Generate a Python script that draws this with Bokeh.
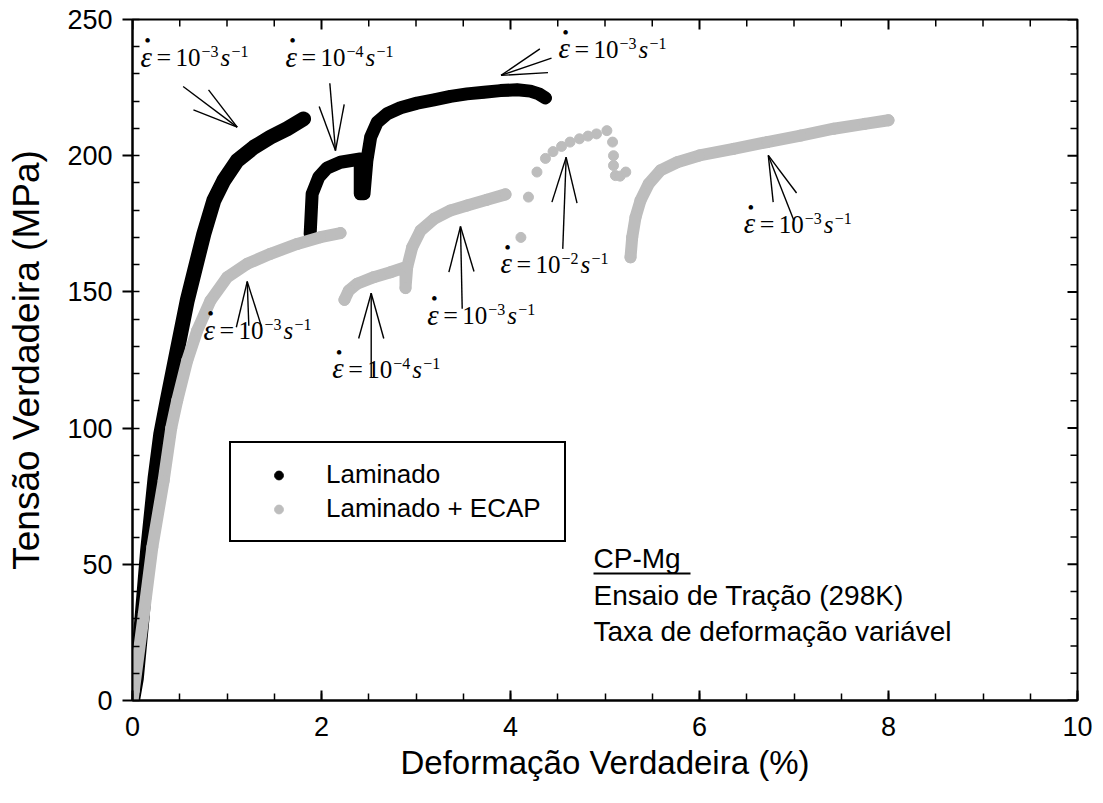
import math
from bokeh.plotting import figure
from bokeh.models import Range1d, SingleIntervalTicker, Legend, LegendItem
from bokeh.embed import file_html
from bokeh.resources import INLINE
from bokeh.core.properties import value

# ---------------- data ----------------
# Laminado (black), one array pair per strain-rate step
lam1_x = [0.00, 0.04, 0.10, 0.16, 0.24, 0.30, 0.367, 0.473, 0.579, 0.667, 0.755, 0.861, 0.966, 1.108, 1.284, 1.46, 1.637, 1.81]
lam1_y = [0.0, 8, 30, 55, 82, 98, 110.1, 128.5, 146.8, 159.1, 171.3, 183.6, 190.9, 198.2, 203.1, 206.8, 209.9, 213.5]
lam2_x = [1.88, 1.901, 1.971, 2.06, 2.20, 2.41, 2.41, 2.41, 2.45, 2.48, 2.52, 2.59, 2.695, 2.836, 3.012, 3.19,
          3.365, 3.54, 3.72, 3.894, 4.07, 4.21, 4.30, 4.37]
lam2_y = [171.3, 186, 192.1, 195.5, 197.6, 198.8, 194.6, 186, 186, 198.2, 206.8, 212.3, 215.4, 217.6, 219.3, 220.5,
          221.8, 222.7, 223.3, 223.9, 224.2, 223.7, 222.7, 221.2]

# Laminado + ECAP (grey)
ecap1_x = [0.00, 0.014, 0.12, 0.21, 0.33, 0.41, 0.473, 0.579, 0.684, 0.825, 1.002, 1.214, 1.46, 1.743, 1.989, 2.201]
ecap1_y = [0.0, 3.7, 31.8, 56.3, 80.8, 100, 110.1, 124.8, 135.8, 146.8, 155.4, 160.3, 164, 167.6, 170.1, 171.6]
ecap2_x = [2.243, 2.289, 2.377, 2.553, 2.73, 2.889, 2.889, 2.907, 2.96, 3.048, 3.19, 3.365, 3.54, 3.75, 3.947]
ecap2_y = [147.1, 150.5, 153, 155.4, 157.2, 159.1, 151.4, 159.1, 166.4, 172.5, 176.8, 179.9, 181.7, 183.8, 185.8]
ecap3_x = [5.27, 5.288, 5.323, 5.376, 5.463, 5.587, 5.764, 6.0, 6.36, 6.716, 7.07, 7.42, 7.75, 8.0]
ecap3_y = [162.7, 170.1, 177.4, 183.6, 189.7, 194.6, 197.6, 200.1, 202.5, 205, 207.4, 209.9, 211.7, 213]
# sparse points of the 10^-2 s^-1 step
ecap_sparse_x = [4.11, 4.19, 4.28, 4.37, 4.45, 4.54, 4.63, 4.73, 4.82, 4.91, 5.02, 5.08, 5.09, 5.09, 5.11, 5.16, 5.22]
ecap_sparse_y = [170, 184.8, 194, 199, 201.5, 203.4, 205, 206.2, 207.2, 208, 209.2, 205, 200, 196.4, 192.7, 192.5, 194]

# strain-rate annotations: label anchor (left of epsilon, middle of digits), exponent, arrow tip / tail
ann_x = [0.085, 1.619, 4.508, 0.751, 2.113, 3.119, 3.894, 6.469]
ann_y = [236.0, 236.0, 239.1, 135.8, 121.6, 141.2, 160.1, 174.8]
ann_exp = ["\u22123", "\u22124", "\u22123", "\u22123", "\u22124", "\u22123", "\u22122", "\u22123"]
arr_tip_x = [1.108, 2.148, 3.900, 1.214, 2.526, 3.471, 4.589, 6.728]
arr_tip_y = [210.5, 201.9, 229.5, 153.8, 149.5, 174.0, 199.4, 200.1]
arr_tail_x = [0.536, 2.088, 4.434, 1.231, 2.526, 3.489, 4.553, 6.999]
arr_tail_y = [225.4, 226.6, 235.8, 137.6, 118.7, 143.8, 165.8, 176.2]

info_lines = ["CP-Mg", "Ensaio de Tração (298K)", "Taxa de deformação variável"]

# ---------------- figure ----------------
FW, FH = 945, 681
XMAX, YMAX = 10, 250
sx = FW / XMAX
sy = FH / YMAX
p = figure(frame_width=FW, frame_height=FH, x_range=Range1d(0, XMAX), y_range=Range1d(0, YMAX),
           output_backend="svg", toolbar_location=None,
           min_border_left=132, min_border_right=21, min_border_top=19, min_border_bottom=90,
           background_fill_color="white", border_fill_color="white")
p.xgrid.visible = False
p.ygrid.visible = False
p.outline_line_color = "black"
p.outline_line_width = 2

SANS = "Liberation Sans"
SERIF = "Liberation Serif"

xa = p.xaxis[0]
xa.ticker = SingleIntervalTicker(interval=2, num_minor_ticks=4)
xa.axis_label = "Deformação Verdadeira (%)"
ya = p.yaxis[0]
ya.ticker = SingleIntervalTicker(interval=50, num_minor_ticks=5)
ya.axis_label = "Tensão Verdadeira (MPa)"

for ax in (xa, ya):
    ax.axis_line_width = 2
    ax.major_tick_line_width = 2
    ax.minor_tick_line_width = 1.5
    ax.major_label_text_font = SANS
    ax.major_label_text_font_size = "27px"
    ax.major_label_text_color = "black"
    ax.axis_label_text_font = SANS
    ax.axis_label_text_font_style = "normal"
    ax.axis_label_text_color = "black"
    ax.minor_tick_in = 7
    ax.minor_tick_out = 0

xa.axis_label_text_font_size = "33px"
ya.axis_label_text_font_size = "37px"
xa.major_tick_in = 10
xa.major_tick_out = 0
xa.major_label_standoff = 16
xa.axis_label_standoff = 5
ya.major_tick_in = 0
ya.major_tick_out = 10
ya.major_label_standoff = 10
ya.axis_label_standoff = 17

# mirrored ticks on the top and right edges
top_major = [2 * i for i in range(6)]
top_minor = [0.5 * i for i in range(21) if i % 4]
right_major = [50 * i for i in range(6)]
right_minor = [10 * i for i in range(26) if i % 5]
p.ray(top_major, [YMAX] * len(top_major), length=10, length_units="screen", angle=-math.pi / 2,
      line_color="black", line_width=2)
p.ray(top_minor, [YMAX] * len(top_minor), length=7, length_units="screen", angle=-math.pi / 2,
      line_color="black", line_width=1.5)
p.ray([XMAX] * len(right_major), right_major, length=10, length_units="screen", angle=math.pi,
      line_color="black", line_width=2)
p.ray([XMAX] * len(right_minor), right_minor, length=7, length_units="screen", angle=math.pi,
      line_color="black", line_width=1.5)

GREY = "#bdbdbd"
# curves (dense markers -> thick round lines)
p.line(lam1_x, lam1_y, line_color="black", line_width=15, line_cap="round", line_join="round")
p.line(lam2_x, lam2_y, line_color="black", line_width=13, line_cap="round", line_join="round")
r_lam = p.scatter(lam1_x + lam2_x, lam1_y + lam2_y, size=11, fill_color="black", line_color="black")
for ex, ey in ((ecap1_x, ecap1_y), (ecap2_x, ecap2_y), (ecap3_x, ecap3_y)):
    p.line(ex, ey, line_color=GREY, line_width=12, line_cap="round", line_join="round")
r_ecap = p.scatter(ecap1_x + ecap2_x + ecap3_x, ecap1_y + ecap2_y + ecap3_y, size=11,
                   fill_color=GREY, line_color=GREY)
p.scatter(ecap_sparse_x, ecap_sparse_y, size=10, fill_color=GREY, line_color=GREY)

# arrows (shaft + two barbs, computed in screen proportions)
BARB = 47.0
ANG = math.radians(15.5)
x0s, y0s, x1s, y1s = [], [], [], []
for tx, ty, lx, ly in zip(arr_tip_x, arr_tip_y, arr_tail_x, arr_tail_y):
    x0s.append(tx); y0s.append(ty); x1s.append(lx); y1s.append(ly)
    dx, dy = (lx - tx) * sx, (ly - ty) * sy
    L = math.hypot(dx, dy)
    ux, uy = dx / L, dy / L
    for a in (ANG, -ANG):
        rx = (ux * math.cos(a) - uy * math.sin(a)) * BARB
        ry = (ux * math.sin(a) + uy * math.cos(a)) * BARB
        x0s.append(tx); y0s.append(ty)
        x1s.append(tx + rx / sx); y1s.append(ty + ry / sy)
p.segment(x0s, y0s, x1s, y1s, line_color="black", line_width=1.4)

# strain-rate labels  (epsilon-dot = 10^-n s^-1)
n = len(ann_x)
common = dict(text_font=value(SERIF), text_color="black", text_baseline="middle", text_align="left")
p.text(ann_x, ann_y, text=["\u03b5"] * n, text_font_size="29px", text_font_style="italic",
       y_offset=-1, **common)
p.text(ann_x, ann_y, text=["="] * n, text_font_size="26px", x_offset=16, **common)
p.text(ann_x, ann_y, text=["10"] * n, text_font_size="25px", x_offset=35, **common)
p.text(ann_x, ann_y, text=ann_exp, text_font_size="16px", x_offset=61, y_offset=-6, **common)
p.text(ann_x, ann_y, text=["s"] * n, text_font_size="25px", text_font_style="italic", x_offset=80, **common)
p.text(ann_x, ann_y, text=["\u22121"] * n, text_font_size="16px", x_offset=91, y_offset=-6, **common)
p.text(ann_x, ann_y, text=["\u2022"] * n, text_font=value(SERIF), text_font_size="19px",
       text_align="center", text_baseline="middle", x_offset=7, y_offset=-17, text_color="black")

# info text block
info_x = (593 - 132) / sx
info_y = [(700 - 558) / sy, (700 - 595) / sy, (700 - 631) / sy]
p.text([info_x] * 3, info_y, text=info_lines, text_font=value(SANS), text_font_size="28px",
       text_color="black", text_baseline="middle", text_align="left")
p.segment([info_x], [(700 - 573) / sy], [(690 - 132) / sx], [(700 - 573) / sy],
          line_color="black", line_width=2)

legend = Legend(items=[LegendItem(label="Laminado", renderers=[r_lam]),
                       LegendItem(label="Laminado + ECAP", renderers=[r_ecap])],
                location=(97, 158), margin=0, padding=16, spacing=3,
                glyph_width=63, glyph_height=22, label_height=28, label_width=222, label_standoff=16,
                label_text_font=SANS, label_text_font_size="26px", label_text_color="black",
                border_line_color="black", border_line_width=2, border_line_alpha=1,
                background_fill_color="white", background_fill_alpha=1)
p.add_layout(legend, "center")

open("out.html", "w").write(file_html(p, INLINE))
